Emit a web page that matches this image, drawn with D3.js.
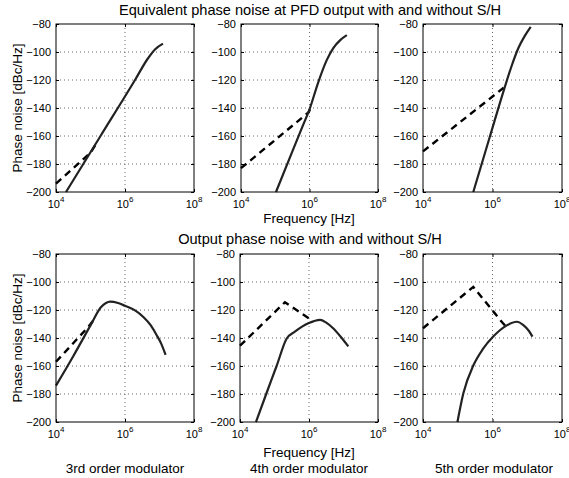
<!DOCTYPE html>
<html>
<head>
<meta charset="utf-8">
<script src="https://cdnjs.cloudflare.com/ajax/libs/d3/7.8.5/d3.min.js"></script>
<style>
  body { margin: 0; background: #fff; }
  svg { font-family: "Liberation Sans", Arial, Helvetica, sans-serif; }
  .box { fill: none; stroke: #000; stroke-width: 1; }
  .grid line { stroke: #444; stroke-width: 0.8; stroke-dasharray: 1,3; }
  .tick-label { font-size: 11px; fill: #000; }
  .label { font-size: 13.5px; fill: #000; }
  .title { font-size: 14.6px; fill: #000; }
</style>
</head>
<body>
<div class="chart"></div>
<script>
// axis ticks
var xTicks = [1e4, 1e6, 1e8];
var xTickExp = ["4", "6", "8"];
var yTicks = [-200, -180, -160, -140, -120, -100, -80];

// top row: equivalent phase noise at PFD output [Hz, dBc/Hz]
var pfd3Solid = [[1.95e4, -200], [1.95e5, -160], [1.95e6, -120], [4.5e6, -105], [7.5e6, -98], [1.26e7, -94]];
var pfd3Dashed = [[1e4, -194], [1e5, -172], [1.6e5, -164]];
var pfd4Solid = [[1.05e5, -200], [3.16e5, -171], [6.3e5, -153], [1e6, -141], [1.78e6, -122], [3.16e6, -106], [5e6, -97], [7.9e6, -91.5], [1.23e7, -88]];
var pfd4Dashed = [[1e4, -183], [9.5e5, -143], [1.05e6, -140.5]];
var pfd5Solid = [[2.8e5, -200], [8.5e5, -160], [2.2e6, -126], [3.55e6, -110], [5.6e6, -97], [8.5e6, -88.5], [1.26e7, -82]];
var pfd5Dashed = [[1e4, -171], [2.1e6, -125.5], [2.3e6, -124]];

// bottom row: output phase noise
var out3Solid = [[1e4, -174], [3.16e4, -153], [1e5, -131], [2e5, -118], [2.8e5, -115], [3.7e5, -114], [6.3e5, -115], [1e6, -117], [2e6, -120.5], [3.4e6, -125], [5.6e6, -131], [8.3e6, -138], [1.12e7, -144], [1.5e7, -152]];
var out3Dashed = [[1e4, -157], [8.7e4, -132], [1.3e5, -126.5]];
var out4Solid = [[2.9e4, -200], [5.75e4, -180], [1.15e5, -160], [2.24e5, -140.5], [3.9e5, -135.5], [9.5e5, -129.5], [2.1e6, -127], [3.16e6, -129], [5e6, -133], [8.9e6, -140], [1.38e7, -146]];
var out4Dashed = [[1e4, -145.5], [2e5, -114.5], [1.07e6, -126.5], [1.3e6, -128.5]];
var out5Solid = [[9.8e4, -200], [1.45e5, -179.5], [2.82e5, -159.5], [5.25e5, -148], [1.05e6, -139], [2.57e6, -131], [5e6, -128.4], [7.9e6, -131], [1.12e7, -135], [1.41e7, -139]];
var out5Dashed = [[1e4, -133], [2.8e5, -103.5], [2e6, -129.5], [2.4e6, -131.5]];

var panels = [
  { left: 56, top: 24, w: 138, solid: pfd3Solid, dashed: pfd3Dashed },
  { left: 241, top: 24, w: 137, solid: pfd4Solid, dashed: pfd4Dashed },
  { left: 423, top: 24, w: 139, solid: pfd5Solid, dashed: pfd5Dashed },
  { left: 56, top: 254, w: 138, solid: out3Solid, dashed: out3Dashed },
  { left: 240, top: 254, w: 138, solid: out4Solid, dashed: out4Dashed },
  { left: 423, top: 254, w: 139, solid: out5Solid, dashed: out5Dashed }
];
var panelH = 168;

var svg = d3.select(".chart")
  .append("svg")
  .attr("width", 569)
  .attr("height", 478);

panels.forEach(function(p) {
  var x = d3.scaleLog().domain([1e4, 1e8]).range([0, p.w]);
  var y = d3.scaleLinear().domain([-200, -80]).range([panelH, 0]);

  var g = svg.append("g")
    .attr("transform", "translate(" + p.left + "," + p.top + ")");

  // dotted grid
  var grid = g.append("g").attr("class", "grid");
  grid.selectAll(".gy")
    .data(yTicks.slice(1, -1))
    .enter()
    .append("line")
    .attr("x1", 0).attr("x2", p.w)
    .attr("y1", function(d) { return y(d); })
    .attr("y2", function(d) { return y(d); });
  grid.selectAll(".gx")
    .data(xTicks.slice(1, -1))
    .enter()
    .append("line")
    .attr("y1", 0).attr("y2", panelH)
    .attr("x1", function(d) { return x(d); })
    .attr("x2", function(d) { return x(d); });

  // inward ticks, both sides
  var left = d3.axisLeft(y).tickValues(yTicks).tickSize(-3).tickFormat("");
  var right = d3.axisRight(y).tickValues(yTicks).tickSize(-3).tickFormat("");
  var bottom = d3.axisBottom(x).tickValues(xTicks).tickSize(-3).tickFormat("");
  var top = d3.axisTop(x).tickValues(xTicks).tickSize(-3).tickFormat("");
  g.append("g").call(left);
  g.append("g").attr("transform", "translate(" + p.w + ",0)").call(right);
  g.append("g").attr("transform", "translate(0," + panelH + ")").call(bottom);
  g.append("g").call(top);
  g.selectAll(".domain").remove();
  g.selectAll(".tick line").attr("stroke", "#000");

  var smooth = d3.line()
    .x(function(d) { return x(d[0]); })
    .y(function(d) { return y(d[1]); })
    .curve(d3.curveMonotoneX);
  var straight = d3.line()
    .x(function(d) { return x(d[0]); })
    .y(function(d) { return y(d[1]); });

  g.append("path")
    .datum(p.dashed)
    .attr("d", straight)
    .attr("fill", "none")
    .attr("stroke", "#000")
    .attr("stroke-width", 2.4)
    .attr("stroke-dasharray", "7,5");

  g.append("path")
    .datum(p.solid)
    .attr("d", smooth)
    .attr("fill", "none")
    .attr("stroke", "#222")
    .attr("stroke-width", 2.2);

  g.append("rect")
    .attr("class", "box")
    .attr("width", p.w)
    .attr("height", panelH);

  // tick labels
  g.selectAll(".ylab")
    .data(yTicks)
    .enter()
    .append("text")
    .attr("class", "tick-label")
    .attr("x", -5)
    .attr("y", function(d) { return y(d) + 4; })
    .attr("text-anchor", "end")
    .text(function(d) { return "\u2212" + Math.abs(d); });

  var xl = g.selectAll(".xlab")
    .data(xTicks)
    .enter()
    .append("text")
    .attr("class", "tick-label")
    .attr("x", function(d) { return x(d); })
    .attr("y", panelH + 16)
    .attr("text-anchor", "middle");
  xl.append("tspan").text("10");
  xl.append("tspan")
    .attr("dy", -6)
    .style("font-size", "8px")
    .text(function(d, i) { return xTickExp[i]; });
});

svg.append("text")
  .attr("class", "title")
  .attr("x", 310).attr("y", 15)
  .attr("text-anchor", "middle")
  .text("Equivalent phase noise at PFD output with and without S/H");

svg.append("text")
  .attr("class", "title")
  .attr("x", 310).attr("y", 244)
  .attr("text-anchor", "middle")
  .text("Output phase noise with and without S/H");

[108, 338].forEach(function(cy) {
  svg.append("text")
    .attr("class", "label")
    .attr("transform", "translate(22," + cy + ") rotate(-90)")
    .attr("text-anchor", "middle")
    .text("Phase noise [dBc/Hz]");
});

svg.append("text").attr("class", "label")
  .attr("x", 309).attr("y", 223).attr("text-anchor", "middle")
  .text("Frequency [Hz]");
svg.append("text").attr("class", "label")
  .attr("x", 309).attr("y", 457).attr("text-anchor", "middle")
  .text("Frequency [Hz]");

var modLabels = ["3rd order modulator", "4th order modulator", "5th order modulator"];
var modX = [125, 309, 494];
modLabels.forEach(function(t, i) {
  svg.append("text").attr("class", "label")
    .attr("x", modX[i]).attr("y", 473).attr("text-anchor", "middle")
    .text(t);
});
</script>
</body>
</html>
